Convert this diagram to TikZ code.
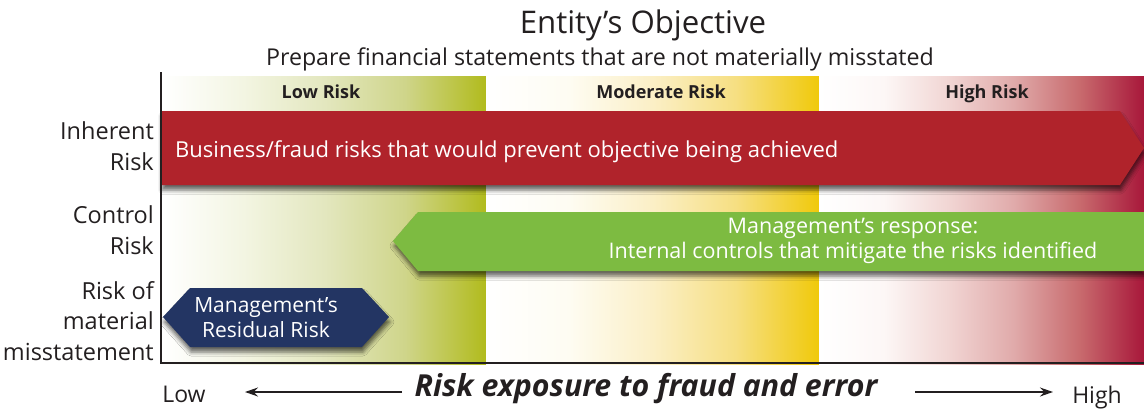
\documentclass[tikz,border=0pt]{standalone}
\usepackage{fontspec}
\setmainfont{Open Sans}
\usetikzlibrary{arrows.meta,shadows.blur}
\definecolor{ink}{HTML}{231F20}
\definecolor{riskred}{HTML}{B0232B}
\definecolor{riskgreen}{HTML}{7DBB41}
\definecolor{risknavy}{HTML}{233563}
\definecolor{lowA}{HTML}{F3F5E2}
\definecolor{lowB}{HTML}{E3E7BF}
\definecolor{lowC}{HTML}{CFD58A}
\definecolor{lowD}{HTML}{B1BB1D}
\definecolor{modA}{HTML}{FEFCF2}
\definecolor{modB}{HTML}{FBEFC6}
\definecolor{modC}{HTML}{F6DF82}
\definecolor{modD}{HTML}{F0C90A}
\definecolor{highA}{HTML}{FDF7F6}
\definecolor{highB}{HTML}{F1D5D3}
\definecolor{highC}{HTML}{E0AAAA}
\definecolor{highD}{HTML}{C86B6E}
\definecolor{highE}{HTML}{A8173A}
\pgfdeclarehorizontalshading{lowsh}{100bp}{color(0bp)=(white); color(25bp)=(white); color(37.5bp)=(lowA); color(50bp)=(lowB); color(62.5bp)=(lowC); color(75bp)=(lowD); color(100bp)=(lowD)}
\pgfdeclarehorizontalshading{modsh}{100bp}{color(0bp)=(white); color(25bp)=(white); color(37.5bp)=(modA); color(50bp)=(modB); color(62.5bp)=(modC); color(75bp)=(modD); color(100bp)=(modD)}
\pgfdeclarehorizontalshading{highsh}{100bp}{color(0bp)=(white); color(25bp)=(white); color(35bp)=(highA); color(45bp)=(highB); color(55bp)=(highC); color(65bp)=(highD); color(75bp)=(highE); color(100bp)=(highE)}
\tikzset{
  shapeshadow/.style={blur shadow={shadow xshift=1pt, shadow yshift=-5pt, shadow blur radius=4pt, shadow opacity=60}},
  sidelabel/.style={text=ink, align=right, anchor=east, inner sep=0pt, font=\fontsize{23.5}{30.5}\selectfont},
  bandlabel/.style={text=ink, anchor=base, inner sep=0pt, font=\bfseries\fontsize{18}{21}\selectfont},
  boxtext/.style={text=white, inner sep=0pt, font=\fontsize{21.5}{25}\selectfont},
  axisline/.style={draw=ink, line width=1.5pt},
  exparrow/.style={draw=ink, line width=1.3pt, -{Stealth[length=13pt,width=9pt]}},
  endlabel/.style={text=ink, anchor=base, inner sep=0pt, font=\fontsize{23}{27}\selectfont}
}
\begin{document}
\begin{tikzpicture}[x=1pt,y=-1pt]
\useasboundingbox (0,0) rectangle (1144,408);
% bands
\shade[shading=lowsh] (162,76) rectangle (486,364);
\shade[shading=modsh] (486,76) rectangle (819,364);
\shade[shading=highsh] (819,76) rectangle (1144,364);
% band labels
\node[bandlabel] (low) at (321,98) {Low Risk};
\node[bandlabel] (mod) at (661,98) {Moderate Risk};
\node[bandlabel] (high) at (987,98) {High Risk};
% red arrow
\fill[riskred, shapeshadow] (161,111) -- (1120,111) -- (1144,148) -- (1120,185) -- (161,185) -- cycle;
\node[boxtext, anchor=base west, font=\fontsize{22}{26}\selectfont] (inh) at (175,157) {Business/fraud risks that would prevent objective being achieved};
% green arrow
\fill[riskgreen, shapeshadow] (393,241) -- (418,212) -- (1144,212) -- (1144,271) -- (418,271) -- cycle;
\node[boxtext, align=center, anchor=center] (ctl) at (853,241) {Management’s response:\\Internal controls that mitigate the risks identified};
% navy hexagon
\fill[risknavy, shapeshadow] (163,317) -- (190,288) -- (362,288) -- (389,317) -- (362,347) -- (190,347) -- cycle;
\node[boxtext, align=center, anchor=center, font=\fontsize{21}{25}\selectfont] (res) at (266,318) {Management’s\\Residual Risk};
% axes
\coordinate (top) at (161,72);
\coordinate (origin) at (161,363);
\coordinate (right) at (1144,363);
\draw[axisline] (top) -- (origin) -- (right);
% side labels
\node[sidelabel] (ir) at (154,146) {Inherent\\Risk};
\node[sidelabel] (cr) at (154,230) {Control\\Risk};
\node[sidelabel] (rm) at (154,321) {Risk of\\material\\misstatement};
% title
\node[text=ink, anchor=base, inner sep=0pt, font=\fontsize{31.2}{36}\selectfont] (title) at (643,33) {Entity’s Objective};
\node[text=ink, anchor=base, inner sep=0pt, font=\fontsize{23.2}{28}\selectfont] (sub) at (600,65) {Prepare financial statements that are not materially misstated};
% bottom axis text
\node[endlabel] (lo) at (184,402) {Low};
\node[endlabel] (hi) at (1097,403) {High};
\node[text=ink, anchor=base, inner sep=0pt, font=\bfseries\itshape\fontsize{30.3}{34}\selectfont] (exp) at (646,396) {Risk exposure to fraud and error};
\coordinate (la) at (402,392);
\coordinate (lb) at (245,392);
\coordinate (ra) at (915,392);
\coordinate (rb) at (1053,392);
\draw[exparrow] (la) -- (lb);
\draw[exparrow] (ra) -- (rb);
\end{tikzpicture}
\end{document}
